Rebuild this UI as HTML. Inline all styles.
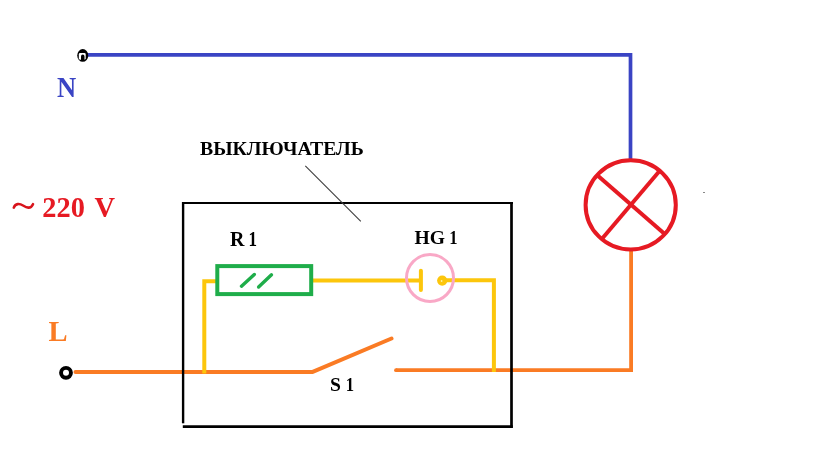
<!DOCTYPE html>
<html>
<head>
<meta charset="utf-8">
<style>
html,body{margin:0;padding:0;background:#fff;}
body{width:830px;height:450px;overflow:hidden;position:relative;}
svg{position:absolute;left:0;top:0;display:block;will-change:transform;}
text{font-family:"Liberation Serif",serif;font-weight:bold;}
</style>
</head>
<body>
<svg width="830" height="450" viewBox="0 0 830 450">
<rect x="0" y="0" width="830" height="450" fill="#fff"/>

<!-- N wire (blue) -->
<polyline points="87,54.8 630.5,54.8 630.5,159" fill="none" stroke="#3A44C4" stroke-width="3.7" stroke-linejoin="miter"/>
<!-- N terminal -->
<ellipse cx="82.75" cy="55.45" rx="5.5" ry="6.4" fill="#000"/>
<rect x="78.8" y="53" width="6.9" height="6.7" rx="1.4" fill="#fff"/>
<path d="M81,60 L81,56.5 A1.75,2 0 0 1 84.5,56.5 L84.5,60 Z" fill="#000"/>

<!-- L wire (orange) -->
<polyline points="75.5,371.9 312.7,371.9 391.5,338.5" fill="none" stroke="#FA7B24" stroke-width="4" stroke-linecap="round" stroke-linejoin="round"/>
<polyline points="396,370.2 631.1,370.2 631.1,251" fill="none" stroke="#FA7B24" stroke-width="3.8" stroke-linecap="butt" stroke-linejoin="miter"/>
<circle cx="396" cy="370.2" r="1.9" fill="#FA7B24"/>
<!-- L terminal -->
<circle cx="66" cy="372.8" r="4.95" fill="#fff" stroke="#000" stroke-width="3.9"/>

<!-- yellow wires -->
<polyline points="204.3,373.6 204.3,281.3 216,281.3" fill="none" stroke="#FCC60C" stroke-width="4" stroke-linejoin="miter"/>
<line x1="312" y1="280.4" x2="421" y2="280.4" stroke="#FCC60C" stroke-width="4"/>
<polyline points="446,280.2 493.9,280.2 493.9,372.1" fill="none" stroke="#FCC60C" stroke-width="4" stroke-linejoin="miter"/>

<!-- resistor -->
<rect x="217.3" y="266.1" width="93.9" height="28" fill="none" stroke="#1FAD4A" stroke-width="4"/>
<line x1="241.5" y1="286.2" x2="254.3" y2="274.5" stroke="#1FAD4A" stroke-width="3.4" stroke-linecap="round"/>
<line x1="258.6" y1="287" x2="271.5" y2="274.8" stroke="#1FAD4A" stroke-width="3.4" stroke-linecap="round"/>

<!-- neon lamp HG1 -->
<circle cx="430" cy="278" r="23.5" fill="none" stroke="#F9A8C6" stroke-width="3"/>
<line x1="420.9" y1="270.8" x2="420.9" y2="289.9" stroke="#FCC60C" stroke-width="4" stroke-linecap="round"/>
<circle cx="442.2" cy="280.6" r="5.1" fill="#FCC60C"/>
<circle cx="441.6" cy="281" r="0.9" fill="#fff0a0"/>

<!-- lamp -->
<ellipse cx="630.7" cy="204.9" rx="45.1" ry="44.6" fill="none" stroke="#E61A23" stroke-width="4"/>
<line x1="597" y1="175" x2="664.7" y2="234" stroke="#E61A23" stroke-width="4"/>
<line x1="659.3" y1="171.3" x2="602.7" y2="238" stroke="#E61A23" stroke-width="4"/>

<!-- box -->
<line x1="183.1" y1="202" x2="183.1" y2="423.3" stroke="#000" stroke-width="2.4"/>
<line x1="182" y1="203" x2="513" y2="203" stroke="#000" stroke-width="2.2"/>
<line x1="511.5" y1="202" x2="511.5" y2="427.8" stroke="#000" stroke-width="2.7"/>
<line x1="182.8" y1="426.6" x2="512.8" y2="426.6" stroke="#000" stroke-width="2.6"/>

<!-- leader -->
<line x1="305.3" y1="165.8" x2="360.8" y2="221.3" stroke="#3a3a3a" stroke-width="1.1"/>
<rect x="703" y="192" width="2" height="1" fill="#888"/>

<!-- labels -->
<text transform="translate(57,96.9) scale(0.9,1.03)" x="0" y="0" font-size="29.5" fill="#3A44C4">N</text>
<text transform="translate(48.6,341.1) scale(0.97,1.03)" x="0" y="0" font-size="29.5" fill="#FA7B24">L</text>
<path d="M13.8,207.6 C15.5,203.2 19.5,203.4 23,205.5 S30.5,209.6 33,204.2" fill="none" stroke="#D8141C" stroke-width="2.6" stroke-linecap="round"/>
<text x="42.3" y="216.6" font-size="28.4" fill="#E61A23">220</text>
<text x="94.5" y="216.6" font-size="28.4" fill="#E61A23">V</text>
<text transform="translate(200,155) scale(1.008,1)" font-size="19.6" fill="#000">ВЫКЛЮЧАТЕЛЬ</text>
<text x="230" y="246" font-size="20" fill="#000">R</text>
<text transform="translate(248.6,246) scale(0.85,1)" font-size="20" fill="#000">1</text>
<text x="414.5" y="244" font-size="19.6" fill="#000">HG</text>
<text transform="translate(449.3,244) scale(0.85,1)" font-size="19.6" fill="#000">1</text>
<text x="330" y="391" font-size="19.6" fill="#000">S</text>
<text transform="translate(345.8,391) scale(0.85,1)" font-size="19.6" fill="#000">1</text>
</svg>
</body>
</html>
